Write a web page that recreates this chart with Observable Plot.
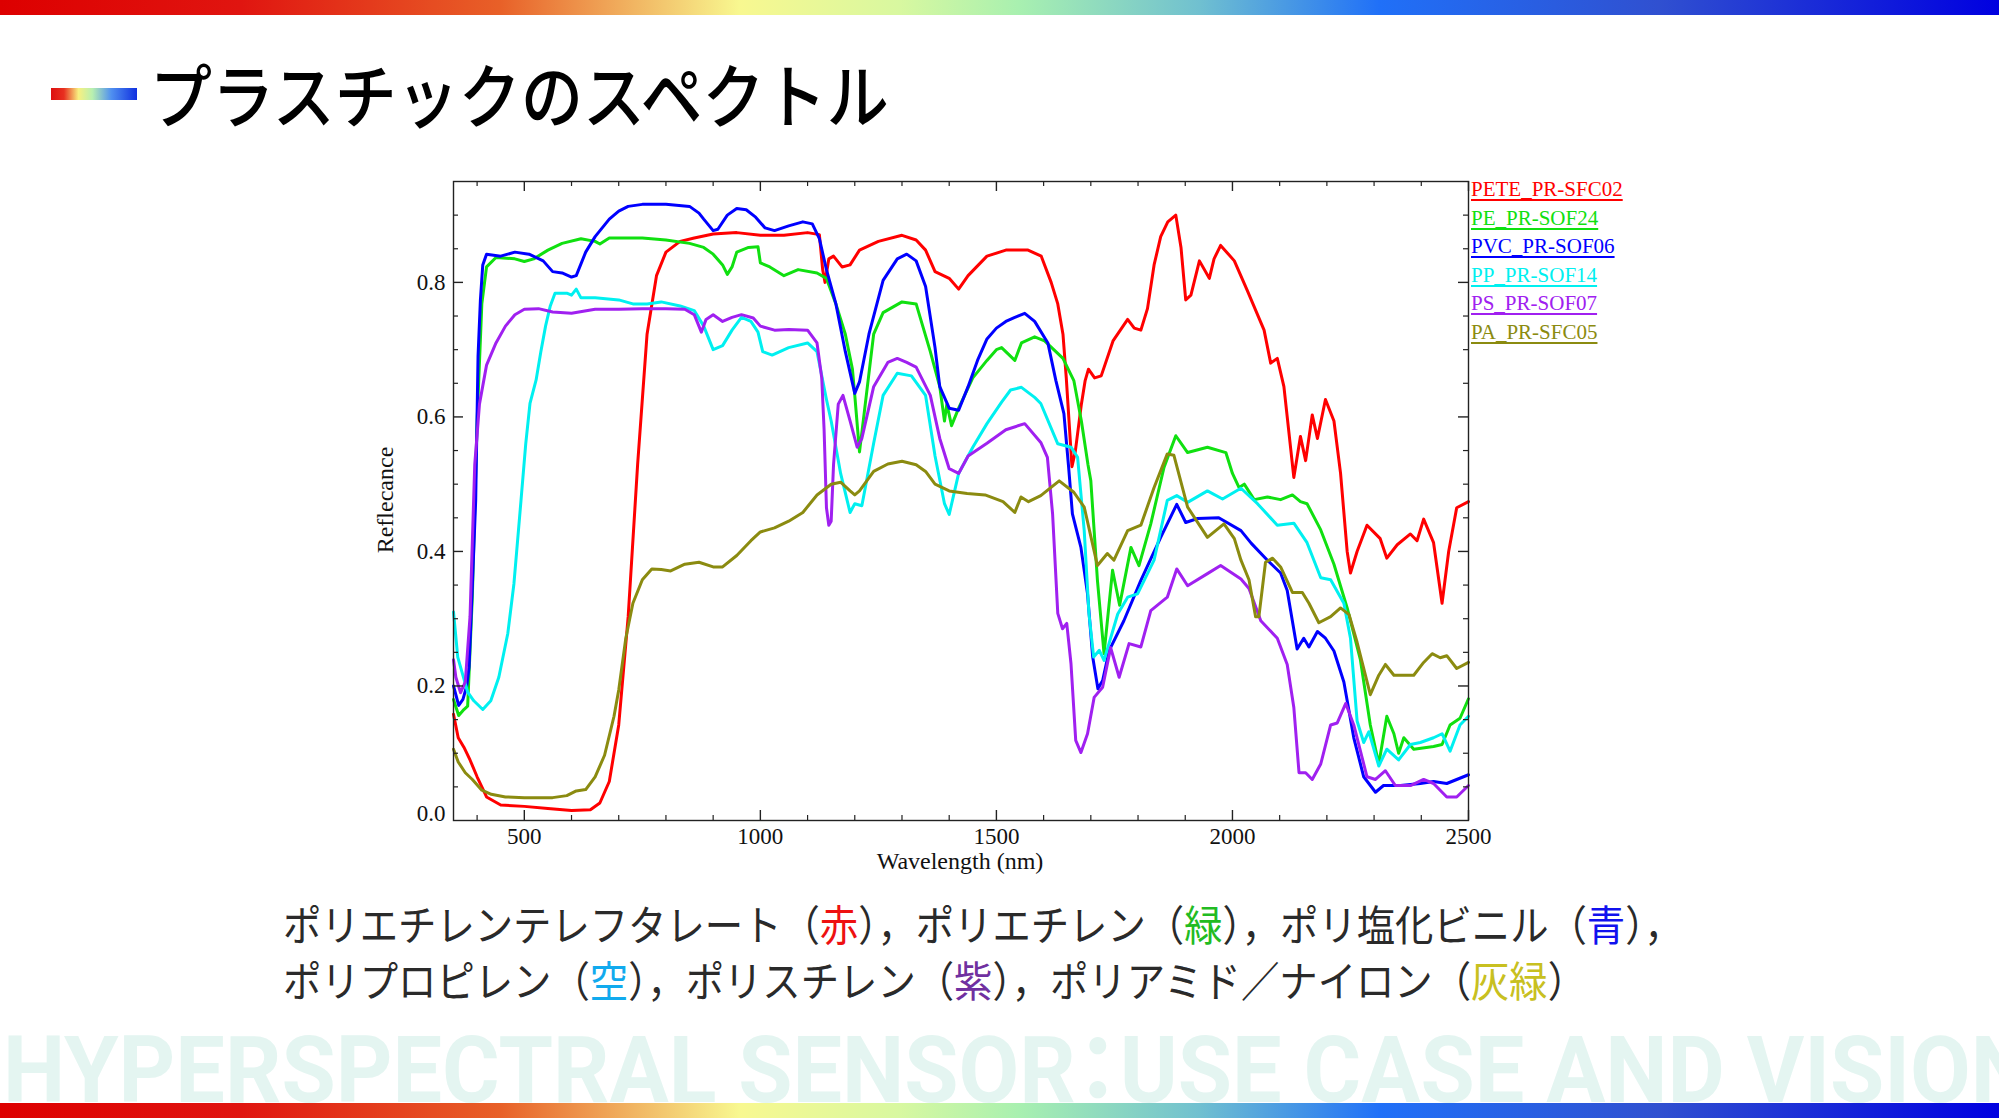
<!DOCTYPE html>
<html><head><meta charset="utf-8">
<script src="https://cdn.jsdelivr.net/npm/d3@7"></script>
<script src="https://cdn.jsdelivr.net/npm/@observablehq/plot@0.6"></script>
<style>
html,body{margin:0;padding:0;background:#fff;}
body{width:1999px;height:1118px;position:relative;overflow:hidden;font-family:"Noto Sans CJK JP","Noto Sans",sans-serif;}
.rainbow{background:linear-gradient(90deg,#dd0000 0%,#e01510 12%,#e86028 25%,#f8f890 37%,#d8f8a0 45%,#a8f0b0 51%,#70c0d0 60%,#2070f8 69%,#3050d0 83%,#0000e0 100%);}
#topbar{position:absolute;left:0;top:0;width:1999px;height:15px;}
#botbar{position:absolute;left:0;top:1103px;width:1999px;height:15px;}
#icon{position:absolute;left:51px;top:88px;width:86px;height:12px;background:linear-gradient(90deg,#dd1010 0%,#e83020 15%,#f8f080 32%,#b8f0b0 48%,#5090f0 70%,#1030e0 100%);}
#title{position:absolute;left:150px;top:50px;font-size:70px;line-height:86px;color:#000;white-space:nowrap;transform:scaleX(0.886);transform-origin:0 0;font-weight:500;}
#wm{position:absolute;left:0;top:1000px;}
#chart{position:absolute;left:300px;top:150px;}
#legend{position:absolute;left:1471px;top:175px;font-family:"Liberation Serif","Times New Roman",serif;font-size:21px;line-height:28.5px;}
#legend div{text-decoration:underline;text-underline-offset:3px;white-space:nowrap;}
#ylab{position:absolute;left:385px;top:500px;transform:translate(-50%,-50%) rotate(-90deg);font-family:"Liberation Serif",serif;font-size:24px;line-height:1;color:#111;white-space:nowrap;}
#xlab{position:absolute;left:960px;top:861px;transform:translate(-50%,-50%);font-family:"Liberation Serif",serif;font-size:24px;line-height:1;color:#111;white-space:nowrap;}
.cap{position:absolute;left:283px;font-size:42px;line-height:50px;color:#2a2a2a;white-space:nowrap;transform:scaleX(0.913);transform-origin:0 0;}
</style></head><body>
<div id="topbar" class="rainbow"></div>
<div id="botbar" class="rainbow"></div>
<svg id="wm" width="1999" height="110"><text x="3" y="102" font-family="Roboto, 'Noto Sans CJK JP', sans-serif" font-weight="700" font-size="92" fill="#e4f5f1" style="font-feature-settings:'palt'" textLength="2030" lengthAdjust="spacingAndGlyphs">HYPERSPECTRAL SENSOR：USE CASE AND VISION</text></svg>
<div id="icon"></div>
<div id="title">プラスチックのスペクトル</div>
<div id="chart"></div>
<div id="legend"></div>
<div id="ylab">Reflecance</div>
<div id="xlab">Wavelength (nm)</div>
<div class="cap" style="top:898px">ポリエチレンテレフタレート（<span style="color:#ee1111">赤</span>），ポリエチレン（<span style="color:#22bb22">緑</span>），ポリ塩化ビニル（<span style="color:#1111ee">青</span>），</div>
<div class="cap" style="top:954px">ポリプロピレン（<span style="color:#11aaee">空</span>），ポリスチレン（<span style="color:#7030a0">紫</span>），ポリアミド／ナイロン（<span style="color:#c8c020">灰緑</span>）</div>
<script>
const names = ["PETE_PR-SFC02","PE_PR-SOF24","PVC_PR-SOF06","PP_PR-SOF14","PS_PR-SOF07","PA_PR-SFC05"];
const colors = ["#ff0000","#10e010","#0000ff","#00f0f0","#a020f0","#8b8b10"];

const pete = [[350,0.158],[360,0.123],[372,0.109],[385,0.09],[400,0.065],[420,0.035],[450,0.023],[500,0.021],[550,0.018],[600,0.015],[640,0.016],[660,0.026],[680,0.058],[700,0.142],[720,0.303],[740,0.529],[760,0.723],[780,0.81],[800,0.845],[830,0.861],[860,0.866],[900,0.872],[950,0.874],[1000,0.87],[1050,0.87],[1100,0.874],[1125,0.871],[1132,0.819],[1137,0.80],[1145,0.835],[1155,0.839],[1173,0.823],[1190,0.826],[1210,0.848],[1250,0.861],[1300,0.87],[1330,0.863],[1350,0.848],[1370,0.816],[1400,0.806],[1420,0.79],[1440,0.81],[1480,0.839],[1520,0.848],[1567,0.848],[1595,0.839],[1616,0.80],[1630,0.768],[1641,0.723],[1648,0.658],[1655,0.581],[1660,0.526],[1667,0.548],[1680,0.619],[1688,0.654],[1695,0.671],[1708,0.658],[1722,0.661],[1747,0.713],[1778,0.745],[1792,0.732],[1806,0.729],[1820,0.761],[1834,0.826],[1848,0.868],[1863,0.89],[1880,0.90],[1891,0.852],[1901,0.774],[1912,0.781],[1930,0.832],[1951,0.806],[1961,0.835],[1975,0.855],[2004,0.832],[2032,0.787],[2067,0.729],[2081,0.68],[2095,0.687],[2109,0.645],[2130,0.51],[2144,0.571],[2155,0.535],[2169,0.603],[2180,0.568],[2197,0.626],[2215,0.594],[2229,0.516],[2243,0.40],[2250,0.368],[2264,0.40],[2285,0.439],[2313,0.419],[2327,0.39],[2349,0.41],[2377,0.426],[2391,0.416],[2405,0.448],[2426,0.413],[2444,0.323],[2458,0.40],[2475,0.465],[2500,0.474]];

const pe = [[350,0.18],[361,0.156],[372,0.165],[380,0.17],[390,0.335],[400,0.594],[410,0.768],[420,0.823],[440,0.837],[480,0.835],[500,0.831],[520,0.835],[550,0.848],[580,0.858],[620,0.865],[650,0.861],[660,0.857],[680,0.866],[750,0.866],[800,0.863],[850,0.858],[880,0.852],[900,0.842],[920,0.826],[930,0.812],[940,0.823],[950,0.845],[975,0.852],[995,0.853],[1000,0.829],[1020,0.823],[1050,0.81],[1080,0.819],[1120,0.814],[1140,0.806],[1160,0.768],[1180,0.723],[1195,0.671],[1200,0.632],[1210,0.548],[1220,0.606],[1240,0.723],[1260,0.755],[1300,0.771],[1330,0.768],[1360,0.697],[1380,0.645],[1390,0.594],[1395,0.619],[1405,0.587],[1420,0.613],[1450,0.658],[1480,0.684],[1500,0.70],[1511,0.703],[1539,0.684],[1553,0.71],[1581,0.719],[1602,0.713],[1641,0.687],[1664,0.654],[1680,0.594],[1694,0.529],[1700,0.505],[1714,0.357],[1728,0.248],[1746,0.372],[1761,0.32],[1785,0.406],[1802,0.379],[1827,0.441],[1855,0.525],[1880,0.572],[1905,0.547],[1947,0.555],[1986,0.547],[2000,0.516],[2014,0.495],[2025,0.50],[2046,0.477],[2074,0.481],[2102,0.477],[2127,0.484],[2144,0.474],[2158,0.471],[2187,0.432],[2215,0.381],[2243,0.316],[2271,0.239],[2292,0.142],[2310,0.084],[2327,0.155],[2342,0.129],[2352,0.10],[2363,0.123],[2384,0.106],[2426,0.11],[2444,0.113],[2461,0.142],[2482,0.152],[2500,0.181]];

const pvc = [[350,0.20],[361,0.171],[370,0.18],[378,0.2],[383,0.228],[390,0.35],[397,0.476],[402,0.69],[407,0.774],[412,0.826],[420,0.842],[450,0.839],[480,0.845],[510,0.842],[540,0.832],[560,0.816],[580,0.814],[600,0.808],[610,0.81],[630,0.845],[650,0.868],[680,0.894],[700,0.906],[720,0.913],[750,0.916],[800,0.916],[850,0.913],[870,0.903],[880,0.894],[900,0.877],[910,0.879],[930,0.90],[950,0.91],[970,0.908],[990,0.897],[1010,0.881],[1030,0.877],[1060,0.884],[1090,0.89],[1110,0.887],[1125,0.865],[1140,0.819],[1160,0.768],[1180,0.697],[1200,0.635],[1210,0.652],[1230,0.723],[1260,0.803],[1290,0.835],[1310,0.842],[1330,0.832],[1350,0.794],[1370,0.703],[1380,0.645],[1400,0.613],[1420,0.61],[1440,0.645],[1460,0.684],[1480,0.716],[1500,0.732],[1520,0.742],[1539,0.748],[1560,0.754],[1581,0.742],[1609,0.71],[1626,0.654],[1643,0.605],[1653,0.525],[1661,0.456],[1679,0.406],[1693,0.337],[1704,0.243],[1715,0.196],[1725,0.208],[1739,0.253],[1770,0.297],[1806,0.357],[1848,0.421],[1882,0.47],[1901,0.443],[1926,0.449],[1971,0.45],[2018,0.431],[2040,0.412],[2074,0.387],[2102,0.368],[2116,0.342],[2137,0.255],[2151,0.271],[2162,0.258],[2180,0.281],[2197,0.271],[2215,0.252],[2236,0.206],[2257,0.123],[2278,0.065],[2303,0.042],[2320,0.052],[2356,0.052],[2398,0.055],[2426,0.058],[2454,0.055],[2500,0.068]];

const pp = [[350,0.31],[359,0.243],[369,0.218],[380,0.191],[393,0.178],[412,0.165],[429,0.178],[446,0.213],[465,0.278],[478,0.352],[493,0.476],[503,0.56],[512,0.62],[525,0.655],[535,0.697],[545,0.735],[555,0.765],[565,0.784],[590,0.784],[600,0.781],[610,0.79],[620,0.777],[650,0.777],[700,0.774],[730,0.768],[760,0.768],[790,0.771],[830,0.765],[860,0.758],[880,0.735],[900,0.70],[920,0.706],[940,0.729],[960,0.748],[980,0.742],[995,0.726],[1005,0.697],[1025,0.692],[1060,0.703],[1100,0.71],[1120,0.697],[1140,0.626],[1150,0.594],[1170,0.516],[1190,0.458],[1200,0.471],[1215,0.468],[1240,0.561],[1260,0.632],[1290,0.665],[1320,0.661],[1350,0.632],[1370,0.542],[1390,0.471],[1400,0.455],[1420,0.516],[1450,0.555],[1480,0.59],[1511,0.622],[1530,0.64],[1553,0.644],[1581,0.629],[1594,0.62],[1630,0.56],[1658,0.555],[1672,0.54],[1686,0.431],[1696,0.308],[1706,0.243],[1718,0.253],[1728,0.238],[1757,0.307],[1778,0.332],[1799,0.337],[1834,0.387],[1862,0.476],[1882,0.483],[1905,0.473],[1947,0.49],[1979,0.478],[2018,0.494],[2053,0.471],[2095,0.439],[2130,0.442],[2158,0.413],[2187,0.361],[2208,0.358],[2236,0.323],[2250,0.271],[2264,0.148],[2278,0.116],[2289,0.132],[2310,0.081],[2327,0.106],[2352,0.09],[2377,0.113],[2398,0.116],[2426,0.123],[2444,0.129],[2461,0.103],[2482,0.142],[2500,0.155]];

const ps = [[350,0.239],[355,0.213],[365,0.19],[375,0.206],[385,0.303],[395,0.529],[405,0.619],[420,0.677],[440,0.71],[460,0.735],[480,0.752],[500,0.76],[530,0.761],[560,0.756],[600,0.754],[650,0.76],[700,0.76],[750,0.761],[800,0.761],[840,0.76],[860,0.752],[875,0.726],[885,0.745],[900,0.752],[920,0.742],[940,0.748],[960,0.752],[985,0.747],[1000,0.735],[1030,0.729],[1060,0.73],[1100,0.729],[1120,0.71],[1130,0.658],[1135,0.581],[1140,0.465],[1145,0.439],[1150,0.445],[1155,0.529],[1165,0.619],[1175,0.632],[1190,0.594],[1205,0.555],[1215,0.568],[1240,0.645],[1270,0.681],[1290,0.687],[1310,0.681],[1330,0.674],[1360,0.632],[1380,0.568],[1400,0.523],[1420,0.516],[1440,0.542],[1480,0.561],[1520,0.581],[1560,0.59],[1594,0.562],[1608,0.54],[1619,0.456],[1630,0.308],[1640,0.285],[1649,0.293],[1658,0.233],[1668,0.119],[1679,0.101],[1693,0.129],[1707,0.183],[1725,0.198],[1742,0.257],[1760,0.213],[1781,0.263],[1806,0.258],[1827,0.312],[1862,0.332],[1882,0.374],[1905,0.349],[1947,0.367],[1975,0.379],[2018,0.359],[2035,0.345],[2060,0.297],[2095,0.271],[2116,0.232],[2130,0.168],[2141,0.071],[2155,0.071],[2169,0.061],[2187,0.084],[2208,0.142],[2222,0.145],[2240,0.174],[2257,0.142],[2285,0.065],[2303,0.061],[2324,0.074],[2345,0.052],[2377,0.052],[2405,0.061],[2426,0.055],[2454,0.035],[2475,0.035],[2500,0.052]];

const pa = [[350,0.106],[360,0.087],[375,0.071],[390,0.061],[410,0.045],[430,0.039],[460,0.035],[500,0.034],[560,0.034],[590,0.037],[610,0.044],[630,0.046],[650,0.065],[670,0.097],[690,0.155],[700,0.194],[715,0.271],[730,0.323],[750,0.358],[770,0.374],[790,0.373],[810,0.371],[840,0.381],[870,0.384],[900,0.377],[920,0.377],[950,0.394],[980,0.416],[1000,0.429],[1030,0.435],[1060,0.445],[1090,0.458],[1120,0.484],[1150,0.50],[1170,0.503],[1190,0.49],[1200,0.484],[1210,0.49],[1240,0.519],[1270,0.53],[1300,0.534],[1330,0.529],[1350,0.519],[1370,0.50],[1400,0.49],[1438,0.486],[1476,0.484],[1514,0.474],[1539,0.458],[1552,0.481],[1568,0.474],[1594,0.483],[1633,0.505],[1664,0.488],[1686,0.466],[1714,0.379],[1735,0.397],[1749,0.387],[1778,0.431],[1806,0.439],[1834,0.495],[1862,0.545],[1876,0.543],[1905,0.466],[1947,0.421],[1982,0.441],[2004,0.419],[2018,0.387],[2035,0.358],[2049,0.303],[2056,0.303],[2070,0.384],[2085,0.39],[2102,0.377],[2127,0.339],[2148,0.339],[2162,0.323],[2183,0.294],[2208,0.303],[2229,0.316],[2247,0.306],[2264,0.265],[2278,0.226],[2292,0.187],[2310,0.216],[2324,0.232],[2342,0.216],[2384,0.216],[2405,0.235],[2423,0.248],[2440,0.242],[2454,0.245],[2475,0.226],[2500,0.235]];

const xMajor = [500,1000,1500,2000,2500];
const xMinor = [400,600,700,800,900,1100,1200,1300,1400,1600,1700,1800,1900,2100,2200,2300,2400];
const yMajor = [0.2,0.4,0.6,0.8];
const yMinor = [0.05,0.1,0.15,0.25,0.3,0.35,0.45,0.5,0.55,0.65,0.7,0.75,0.85,0.9];
const yZero = [0];

const seriesData = [pete, pe, pvc, pp, ps, pa];
const table = seriesData.flatMap((arr, i) => arr.map(([wl, r]) => ({name: names[i], wl, r})));

const W = 1400, H = 750, mL = 153, mR = 232, mT = 31, mB = 80;
const iW = W - mL - mR, iH = H - mT - mB;
const serif = "Liberation Serif, Times New Roman, serif";
const tickStroke = "#222";

const chart = Plot.plot({
  width: W, height: H,
  marginLeft: mL, marginRight: mR, marginTop: mT, marginBottom: mB,
  style: {fontFamily: serif, fontSize: "23px", color: "#111", background: "transparent"},
  x: {domain: [350, 2500]},
  y: {domain: [0, 0.95]},
  color: {domain: names, range: colors},
  marks: [
    Plot.line(table, {x: "wl", y: "r", z: "name", stroke: "name", strokeWidth: 3, strokeLinejoin: "round"}),
    Plot.frame({stroke: "#222", strokeWidth: 1.4}),
    Plot.tickX(xMajor, {x: d => d, insetTop: iH - 10, stroke: tickStroke, strokeWidth: 1.4}),
    Plot.tickX(xMajor, {x: d => d, insetBottom: iH - 10, stroke: tickStroke, strokeWidth: 1.4}),
    Plot.tickX(xMinor, {x: d => d, insetTop: iH - 5, stroke: tickStroke, strokeWidth: 1.2}),
    Plot.tickX(xMinor, {x: d => d, insetBottom: iH - 5, stroke: tickStroke, strokeWidth: 1.2}),
    Plot.tickY(yMajor, {y: d => d, insetRight: iW - 10, stroke: tickStroke, strokeWidth: 1.4}),
    Plot.tickY(yMajor, {y: d => d, insetLeft: iW - 10, stroke: tickStroke, strokeWidth: 1.4}),
    Plot.tickY(yMinor, {y: d => d, insetRight: iW - 5, stroke: tickStroke, strokeWidth: 1.2}),
    Plot.tickY(yMinor, {y: d => d, insetLeft: iW - 5, stroke: tickStroke, strokeWidth: 1.2}),
    Plot.axisX(xMajor, {tickSize: 0, tickPadding: 7, label: null, fontSize: 23, tickFormat: d => String(d)}),
    Plot.axisY(yMajor, {tickSize: 0, tickPadding: 8, label: null, fontSize: 23, tickFormat: d => d.toFixed(1)}),
    Plot.axisY(yZero, {tickSize: 0, tickPadding: 8, label: null, fontSize: 23, dy: -7, tickFormat: d => d.toFixed(1)})
  ]
});
document.getElementById("chart").appendChild(chart);

const legend = document.getElementById("legend");
names.forEach((n, i) => {
  const d = document.createElement("div");
  d.textContent = n;
  d.style.color = colors[i];
  legend.appendChild(d);
});
</script>
</body></html>
